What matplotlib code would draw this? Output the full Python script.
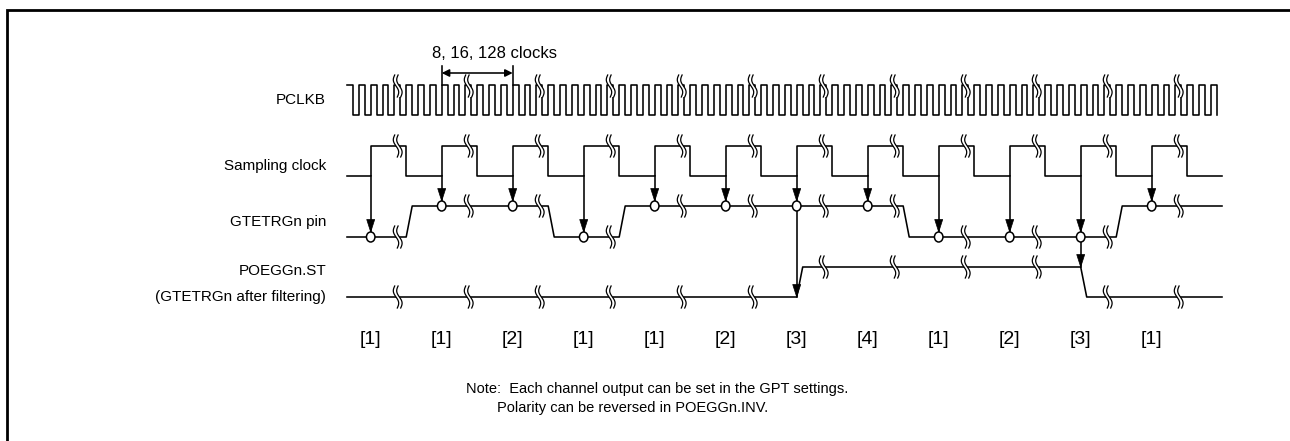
import numpy as np
import matplotlib
matplotlib.use('Agg')
import matplotlib.pyplot as plt
from matplotlib.patches import Ellipse, Polygon

# ---- data ----
row_labels = ['PCLKB', 'Sampling clock', 'GTETRGn pin', 'POEGGn.ST', '(GTETRGn after filtering)']
pin_levels = [0, 1, 1, 0, 1, 1, 1, 1, 0, 0, 0, 1]     # GTETRGn level at each sampling edge
st_levels = [0, 0, 0, 0, 0, 0, 1, 1, 1, 1, 0, 0]      # POEGGn.ST after each sampling edge
count_labels = ['[1]', '[1]', '[2]', '[1]', '[1]', '[2]', '[3]', '[4]', '[1]', '[2]', '[3]', '[1]']
pclk_per_sample = 6
clock_span = (1, 2)          # sampling edges spanned by the "clocks" arrow
clock_text = '8, 16, 128 clocks'
note_lines = ['Note:  Each channel output can be set in the GPT settings.',
              'Polarity can be reversed in POEGGn.INV.']

# ---- layout (pixels) ----
W, H = 1290, 441
X0, PER = 370.7, 71.0        # first sampling edge, sampling period
XS, XE = 347.0, 1222.0       # waveform start / end
BRK = 27.0                   # break mark offset after a sampling edge
HI_W = 35.5                  # sampling clock high time
SLEW = 6.0
PCLK = (85, 115)             # (high y, low y)
SCLK = (146, 176)
PIN = (206, 237)
ST = (267, 297)
LW = 1.15

plt.rcParams['font.family'] = ['Liberation Sans', 'DejaVu Sans']

fig = plt.figure(figsize=(W / 100, H / 100), dpi=100)
ax = fig.add_axes([0, 0, 1, 1])
ax.set_xlim(0, W)
ax.set_ylim(H, 0)
ax.axis('off')

xs = X0 + PER * np.arange(len(pin_levels))


def lev(row, v):
    return row[0] if v else row[1]


def brk(x, y, h=22):
    s = np.linspace(-1, 1, 40)
    yy = y + s * h / 2
    dx = 2.0 * np.sin(np.pi * s) + 1.3 * s
    a = x - 1.7 + dx
    b = x + 1.7 + dx
    ax.add_patch(Polygon(np.column_stack([np.r_[a, b[::-1]], np.r_[yy, yy[::-1]]]),
                         closed=True, fc='white', ec='none', zorder=5))
    ax.plot(a, yy, color='black', lw=0.9, zorder=6)
    ax.plot(b, yy, color='black', lw=0.9, zorder=6)


def arrow_head(x, ytip, ln=12.5, hw=4.0):
    ax.add_patch(Polygon([[x, ytip], [x - hw, ytip - ln], [x + hw, ytip - ln]],
                         closed=True, fc='black', ec='black', lw=0.5, zorder=4))


# frame
ax.plot([7, 7, W], [H, 10, 10], color='black', lw=2.0, solid_joinstyle='miter')

# PCLKB
half = PER / pclk_per_sample / 2
px, py = [XS], [PCLK[0]]
k = -3
while X0 + k * half <= XE:
    e = X0 + k * half
    new = PCLK[0] if k % 2 == 0 else PCLK[1]
    px += [e, e]
    py += [py[-1], new]
    k += 1
ax.plot(px, py, color='black', lw=LW)

# sampling clock
sx, sy = [XS], [SCLK[1]]
for x in xs:
    sx += [x, x, x + HI_W, x + HI_W]
    sy += [SCLK[1], SCLK[0], SCLK[0], SCLK[1]]
sx.append(XE)
sy.append(SCLK[1])
ax.plot(sx, sy, color='black', lw=LW)

# GTETRGn pin
gx, gy = [XS], [lev(PIN, pin_levels[0])]
for i in range(len(pin_levels) - 1):
    if pin_levels[i + 1] != pin_levels[i]:
        gx += [xs[i] + HI_W, xs[i] + HI_W + SLEW]
        gy += [lev(PIN, pin_levels[i]), lev(PIN, pin_levels[i + 1])]
gx.append(XE)
gy.append(lev(PIN, pin_levels[-1]))
ax.plot(gx, gy, color='black', lw=LW)

# POEGGn.ST
tx, ty = [XS], [ST[1]]
prev = 0
for i, v in enumerate(st_levels):
    if v != prev:
        tx += [xs[i], xs[i] + SLEW]
        ty += [lev(ST, prev), lev(ST, v)]
        # arrow from the sampled pin to the output
        ax.plot([xs[i], xs[i]], [lev(PIN, pin_levels[i]) + 5, lev(ST, prev)], color='black', lw=LW)
        arrow_head(xs[i], lev(ST, prev))
    prev = v
tx.append(XE)
ty.append(lev(ST, st_levels[-1]))
ax.plot(tx, ty, color='black', lw=LW)

# sampling arrows and circles
for x, v in zip(xs, pin_levels):
    yp = lev(PIN, v)
    ax.plot([x, x], [SCLK[1], yp - 5], color='black', lw=LW)
    arrow_head(x, yp - 5)
    ax.add_patch(Ellipse((x, yp), 8.5, 10, fc='white', ec='black', lw=1.1, zorder=7))

# break marks
for i, x in enumerate(xs):
    b = x + BRK
    brk(b, PCLK[0] + 1)
    brk(b, SCLK[0])
    brk(b, lev(PIN, pin_levels[i]))
    brk(b, lev(ST, st_levels[i]))

# clocks arrow
a, b = xs[clock_span[0]], xs[clock_span[1]]
for x in (a, b):
    ax.plot([x, x], [66, PCLK[0]], color='black', lw=LW)
ax.annotate('', xy=(a, 73), xytext=(b, 73),
            arrowprops=dict(arrowstyle='<|-|>', color='black', lw=LW,
                            mutation_scale=11, shrinkA=0, shrinkB=0))
ax.text((a + b) / 2 + 17, 54, clock_text, ha='center', va='center', fontsize=12)

# row labels
label_y = [100, 166, 222, 271, 297]
for t, y in zip(row_labels, label_y):
    ax.text(326, y, t, ha='right', va='center', fontsize=11)

# counter labels
for x, t in zip(xs, count_labels):
    ax.text(x, 340, t, ha='center', va='center', fontsize=14)

# note
ax.text(466, 389, note_lines[0], ha='left', va='center', fontsize=10.5)
ax.text(497, 408, note_lines[1], ha='left', va='center', fontsize=10.5)

fig.savefig('out.png', dpi=100)
